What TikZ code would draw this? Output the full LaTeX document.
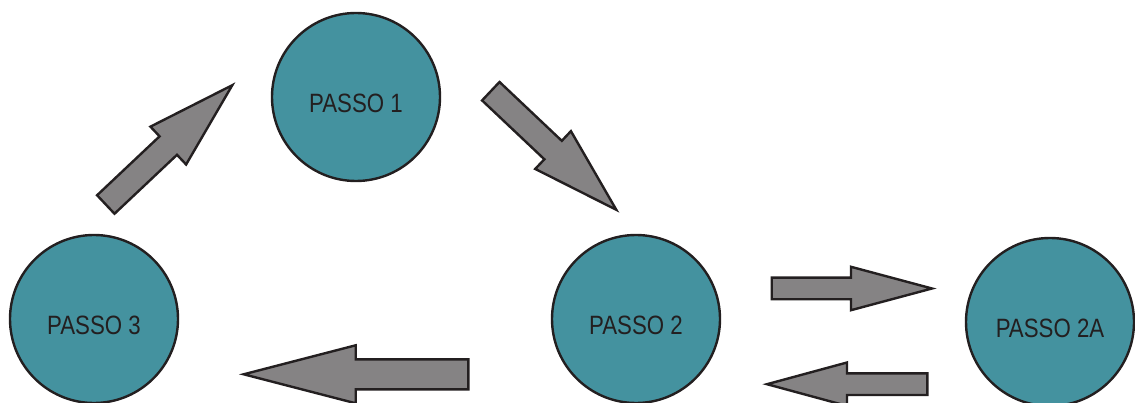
\documentclass[tikz,border=0pt]{standalone}
\usepackage{fontspec}
\setmainfont[FakeStretch=0.84]{Liberation Sans}
\usetikzlibrary{calc}

\definecolor{passoteal}{RGB}{68,146,159}
\definecolor{arrowgray}{RGB}{133,131,132}
\definecolor{outline}{RGB}{35,31,32}

\tikzset{
    passo/.style={circle, draw=outline, line width=2.4pt, fill=passoteal,
        minimum size=168pt, inner sep=0pt, text=outline,
        font=\fontsize{26.5}{30}\selectfont, text height=31pt, text depth=0pt},
    blockarrow/.style={draw=outline, line width=2.4pt, fill=arrowgray, line join=miter}
}

% block arrow: tail, tip, half shaft, half head, head length
\newcommand{\blockarrow}[5]{
    \coordinate (hb) at ($(#2)!#5!(#1)$);
    \draw[blockarrow] ($(#1)!#3!90:(#2)$) -- ($(hb)!#3!-90:(#1)$)
        -- ($(hb)!#4!-90:(#1)$) -- (#2) -- ($(hb)!#4!90:(#1)$)
        -- ($(hb)!#3!90:(#1)$) -- ($(#1)!#3!-90:(#2)$) -- cycle;
}

\begin{document}
\begin{tikzpicture}[x=1pt, y=-1pt]

    \useasboundingbox (0,0) rectangle (1135,403);

    \node[passo] (p1) at (356,97) {PASSO 1};
    \node[passo] (p2) at (636,319) {PASSO 2};
    \node[passo] (p3) at (94,319) {PASSO 3};
    \node[passo] (p2a) at (1050,322) {PASSO 2A};

    % ends of the arrows
    \coordinate (a1s) at (105.8,204.5);
    \coordinate (a1e) at (232.3,85.2);
    \coordinate (a2s) at (490.8,91.2);
    \coordinate (a2e) at (616.3,209.8);
    \coordinate (a3s) at (771.7,288.5);
    \coordinate (a3e) at (932,288.5);
    \coordinate (a4s) at (927.3,384.2);
    \coordinate (a4e) at (767,384.2);
    \coordinate (a5s) at (468.3,374.3);
    \coordinate (a5e) at (243.7,374.3);

    \blockarrow{a1s}{a1e}{12.7pt}{26pt}{88pt}
    \blockarrow{a2s}{a2e}{12.7pt}{26pt}{87pt}
    \blockarrow{a3s}{a3e}{10.8pt}{21.7pt}{81pt}
    \blockarrow{a4s}{a4e}{10.8pt}{21.7pt}{80pt}
    \blockarrow{a5s}{a5e}{15pt}{29pt}{112pt}

\end{tikzpicture}
\end{document}
